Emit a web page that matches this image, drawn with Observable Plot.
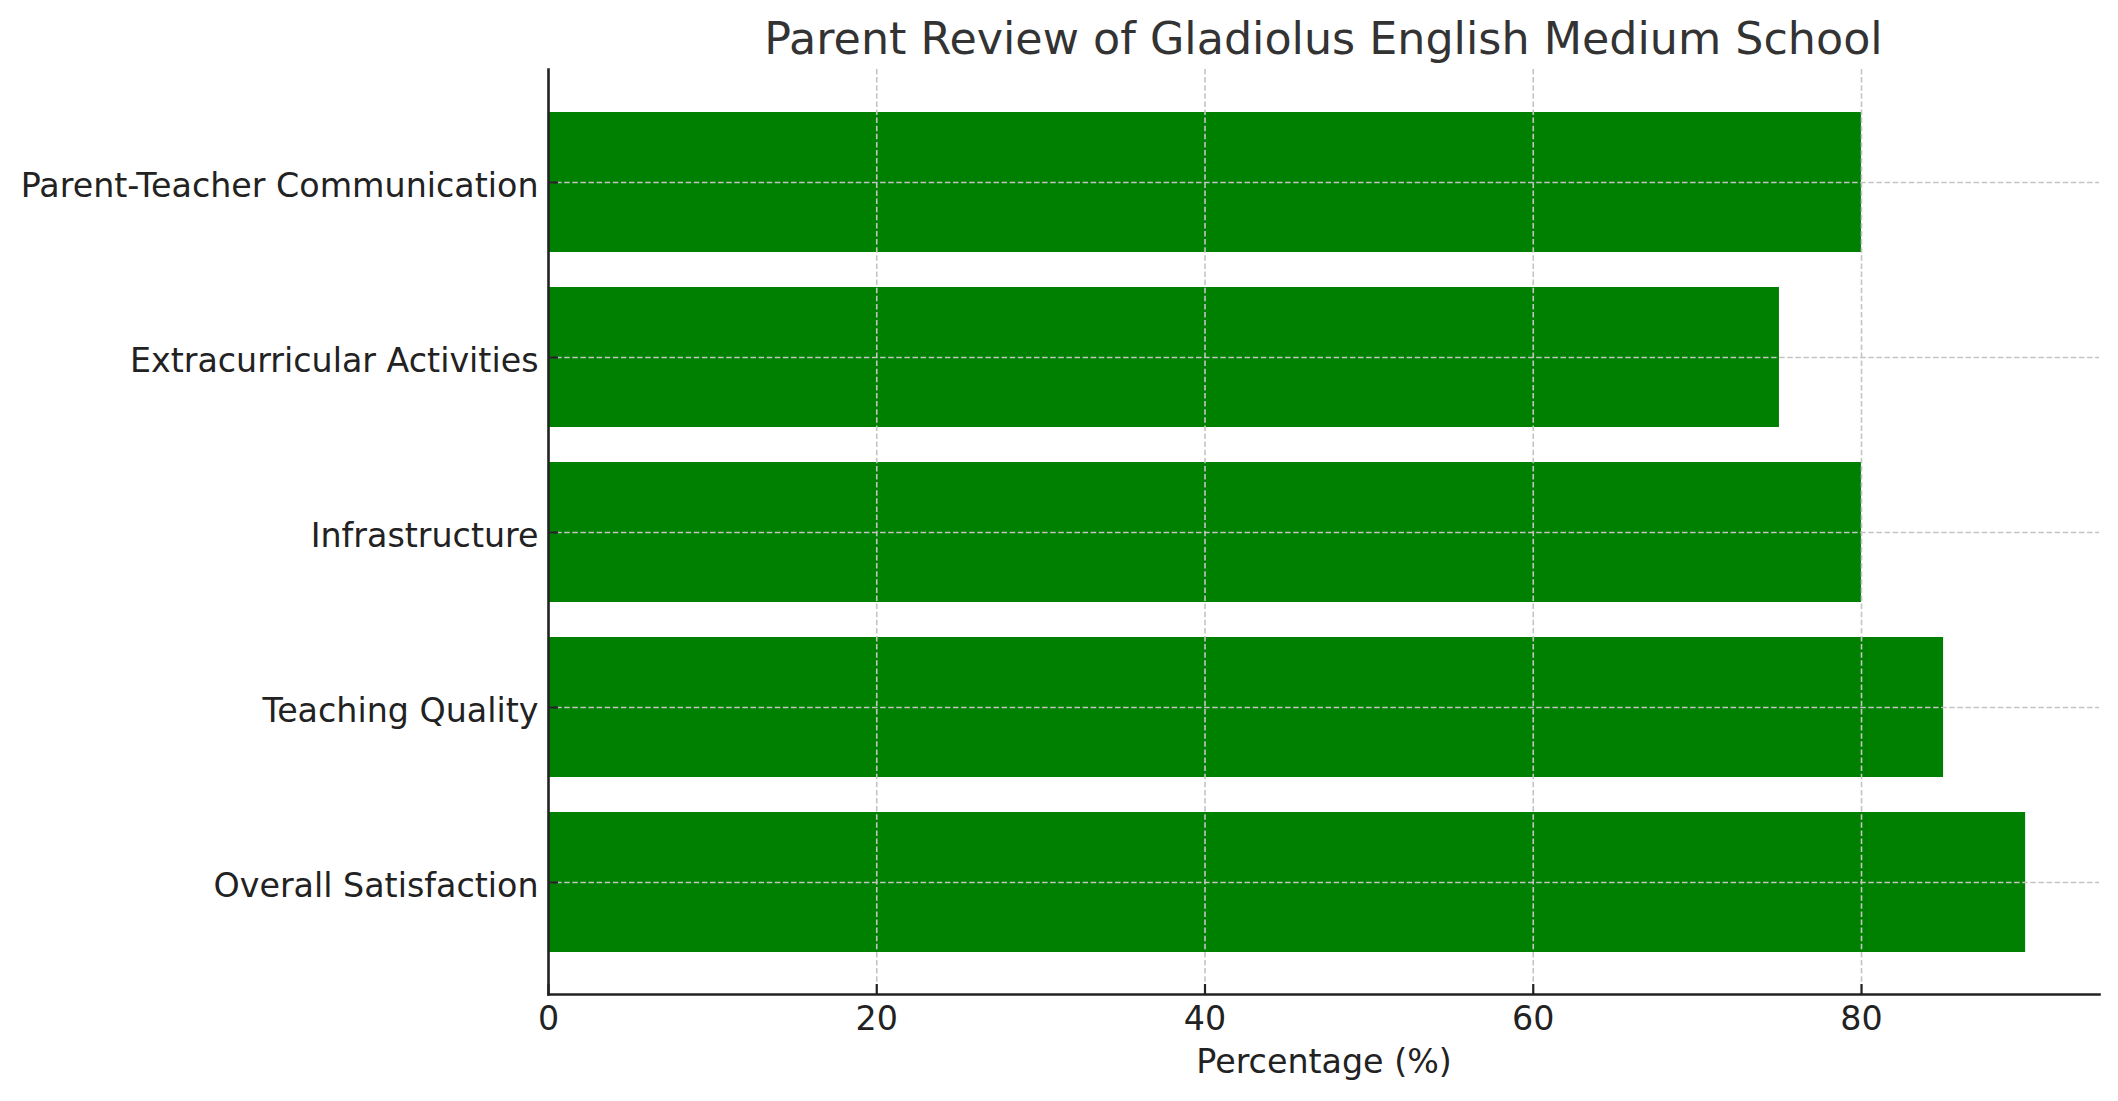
<!DOCTYPE html>
<html>
<head>
<meta charset="utf-8">
<script src="https://cdn.jsdelivr.net/npm/d3@7"></script>
<script src="https://cdn.jsdelivr.net/npm/@observablehq/plot@0.6"></script>
<style>
  html, body { margin: 0; padding: 0; background: #fff; }
  #title {
    box-sizing: border-box;
    width: 2118px;
    height: 68px;
    padding: 9px 19px 0 548px;
    line-height: 59px;
    text-align: center;
    font-family: "DejaVu Sans", sans-serif;
    font-size: 44.4px;
    color: #333;
    white-space: nowrap;
  }
</style>
</head>
<body>
<div id="title"></div>
<div id="chart"></div>
<script>
const titleText = "Parent Review of Gladiolus English Medium School";
const xLabelText = "Percentage (%)";
const categories = [
  "Overall Satisfaction",
  "Teaching Quality",
  "Infrastructure",
  "Extracurricular Activities",
  "Parent-Teacher Communication"
];
const values = [90, 85, 80, 75, 80];
const xTicks = [0, 20, 40, 60, 80];
const xDomain = [0, 94.5];

document.getElementById("title").textContent = titleText;

const data = categories.map((c, i) => ({category: c, value: values[i]}));

const chart = Plot.plot({
  width: 2118,
  height: 1033,
  marginLeft: 548,
  marginRight: 19,
  marginTop: 1,
  marginBottom: 107,
  style: {fontFamily: "DejaVu Sans, sans-serif", fontSize: "33.3px", color: "#222", background: "#fff", overflow: "visible"},
  x: {domain: xDomain},
  y: {domain: categories.slice().reverse(), paddingInner: 0.2, paddingOuter: 0.24},
  marks: [
    Plot.barX(data, {x: "value", y: "category", fill: "#008000"}),
    Plot.gridX({ticks: xTicks.slice(1), stroke: "#c4c4c4", strokeOpacity: 1, strokeWidth: 1.6, strokeDasharray: "5.5,2.6"}),
    Plot.gridY({stroke: "#c4c4c4", strokeOpacity: 1, strokeWidth: 1.6, strokeDasharray: "5.5,2.6"}),
    Plot.frame({anchor: "left", stroke: "#222", strokeWidth: 2.6}),
    Plot.frame({anchor: "bottom", stroke: "#222", strokeWidth: 2.6}),
    Plot.axisX({ticks: xTicks, tickSize: -10, tickPadding: 22, strokeWidth: 2.2, label: null, tickFormat: d => String(d)}),
    Plot.axisY({tickSize: -10, tickPadding: 20, strokeWidth: 2.2, label: null, tickFormat: () => ""}),
    Plot.axisY({tickSize: 0, tickPadding: 10, label: null, dy: 4, textStroke: null}),
    Plot.text([xLabelText], {frameAnchor: "bottom", lineAnchor: "top", dy: 55, fontSize: 33.3, fill: "#222"})
  ]
});
document.getElementById("chart").appendChild(chart);
</script>
</body>
</html>
